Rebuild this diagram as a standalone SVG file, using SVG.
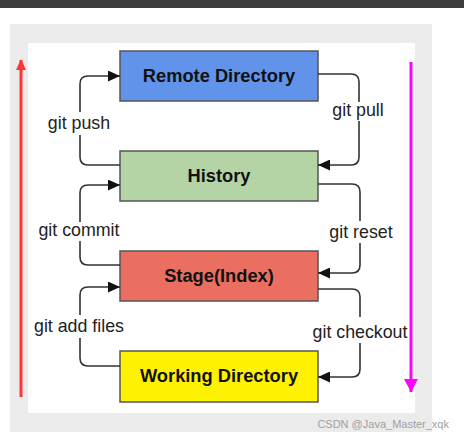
<svg xmlns="http://www.w3.org/2000/svg" width="464" height="441" viewBox="0 0 464 441">
<style>
.box{stroke:#555;stroke-width:1.5}
.bt{font-family:"Liberation Sans",Arial,sans-serif;font-weight:bold;font-size:18.3px;fill:#111;text-anchor:middle}
.lbl{font-family:"Liberation Sans",Arial,sans-serif;font-size:17.8px;fill:#222;text-anchor:middle}
.ln{fill:none;stroke:#333;stroke-width:1.6}
</style>
<defs>
<marker id="ah" markerUnits="userSpaceOnUse" markerWidth="12" markerHeight="11" refX="12" refY="5.5" orient="auto">
<path d="M0,0 L12,5.5 L0,11 z" fill="#111"/>
</marker>
<marker id="red" markerUnits="userSpaceOnUse" markerWidth="12" markerHeight="12" refX="6" refY="1" orient="0">
<path d="M6,0 L11,11 L1,11 z" fill="#ff3434"/>
</marker>
<marker id="mag" markerUnits="userSpaceOnUse" markerWidth="14" markerHeight="14" refX="7" refY="13" orient="0">
<path d="M0,0 L14,0 L7,13 z" fill="#ff00ff"/>
</marker>
</defs>
<rect x="0" y="0" width="464" height="441" fill="#fff"/>
<rect x="0" y="0" width="464" height="8" fill="#3c3c3c"/>
<rect x="10" y="24" width="422" height="408" fill="#ebebeb"/>
<rect x="28" y="43" width="387" height="370" fill="#fff"/>

<g id="remote">
<rect class="box" x="120" y="51" width="198" height="50" fill="#6193ea"/>
<text class="bt" x="219" y="82">Remote Directory</text>
</g>
<g id="history">
<rect class="box" x="120" y="151" width="198" height="50" fill="#b4d4a5"/>
<text class="bt" x="219" y="182">History</text>
</g>
<g id="stage">
<rect class="box" x="120" y="251" width="198" height="50" fill="#ea6f60"/>
<text class="bt" x="219" y="282">Stage(Index)</text>
</g>
<g id="working">
<rect class="box" x="120" y="351" width="198" height="51" fill="#fff200"/>
<text class="bt" x="219" y="382">Working Directory</text>
</g>

<g id="connectors">
<path class="ln" d="M120,165 H88 Q80,165 80,157 V135"/>
<path class="ln" d="M80,112 V84 Q80,76 88,76 H120" marker-end="url(#ah)"/>
<text class="lbl" x="79" y="129">git push</text>

<path class="ln" d="M120,265 H88 Q80,265 80,257 V241"/>
<path class="ln" d="M80,222 V193 Q80,185 88,185 H120" marker-end="url(#ah)"/>
<text class="lbl" x="79" y="236">git commit</text>

<path class="ln" d="M120,366 H88 Q80,366 80,358 V338"/>
<path class="ln" d="M80,315 V295 Q80,287 88,287 H120" marker-end="url(#ah)"/>
<text class="lbl" x="79" y="332">git add files</text>

<path class="ln" d="M318,74 H351 Q359,74 359,82 V102"/>
<path class="ln" d="M359,121 V157 Q359,165 351,165 H318" marker-end="url(#ah)"/>
<text class="lbl" x="358" y="116">git pull</text>

<path class="ln" d="M318,184 H352 Q360,184 360,192 V221"/>
<path class="ln" d="M360,243 V265 Q360,273 352,273 H318" marker-end="url(#ah)"/>
<text class="lbl" x="361" y="238">git reset</text>

<path class="ln" d="M318,289 H352 Q360,289 360,297 V317"/>
<path class="ln" d="M360,343 V369 Q360,377 352,377 H318" marker-end="url(#ah)"/>
<text class="lbl" x="360" y="338">git checkout</text>

<line x1="21" y1="397" x2="21" y2="60" stroke="#ff3434" stroke-width="3" marker-end="url(#red)"/>
<line x1="411" y1="62" x2="411" y2="392" stroke="#ff00ff" stroke-width="3" marker-end="url(#mag)"/>
</g>
<text x="449" y="428" font-family="'Liberation Sans',Arial,sans-serif" font-size="11" fill="#a0a0a0" text-anchor="end">CSDN @Java_Master_xqk</text>
</svg>
